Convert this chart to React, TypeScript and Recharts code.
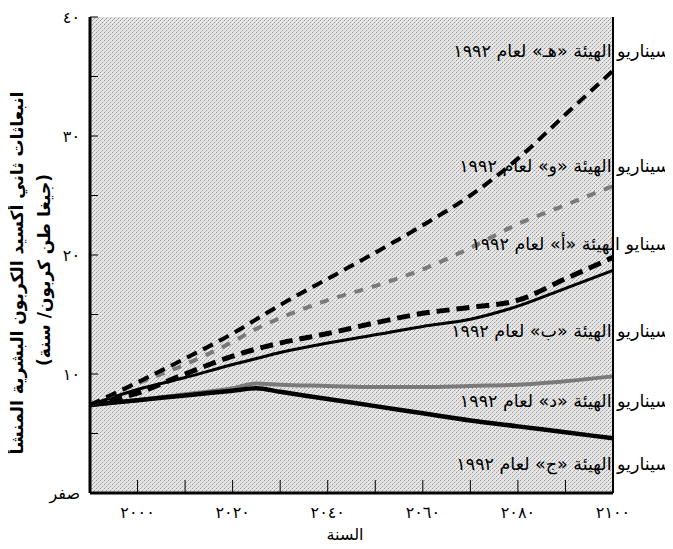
import { LineChart, Line, XAxis, YAxis } from 'recharts';

// سنوات المحور الأفقي
const years = [1990, 2000, 2010, 2020, 2025, 2030, 2040, 2050, 2060, 2070, 2080, 2090, 2100];

// انبعاثات كل سيناريو (جيغا طن كربون/سنة) مقروءة من الشكل
const scenarioE = [7.4, 9.3, 11.3, 13.4, 14.6, 15.8, 18.0, 20.2, 22.5, 25.0, 28.1, 31.8, 35.5];
const scenarioF = [7.4, 9.2, 10.8, 12.7, 13.8, 14.7, 16.2, 17.4, 18.8, 20.6, 22.6, 24.2, 25.8];
const scenarioA = [7.4, 8.4, 10.0, 11.5, 12.1, 12.6, 13.4, 14.3, 15.1, 15.6, 16.2, 18.0, 19.8];
const scenarioB = [7.4, 8.7, 9.7, 10.8, 11.3, 11.8, 12.6, 13.3, 14.0, 14.6, 15.7, 17.2, 18.7];
const scenarioD = [7.4, 7.8, 8.3, 8.8, 9.2, 9.1, 9.0, 8.9, 8.9, 9.0, 9.1, 9.4, 9.8];
const scenarioC = [7.4, 7.8, 8.2, 8.6, 8.8, 8.5, 7.9, 7.3, 6.7, 6.1, 5.6, 5.1, 4.6];

const xTicks = [2000, 2010, 2020, 2030, 2040, 2050, 2060, 2070, 2080, 2090, 2100];
const xTickLabels = ['٢٠٠٠', '', '٢٠٢٠', '', '٢٠٤٠', '', '٢٠٦٠', '', '٢٠٨٠', '', '٢١٠٠'];
const yTicks = [0, 5, 10, 15, 20, 25, 30, 35, 40];
const yTickLabels = ['صفر', '', '١٠', '', '٢٠', '', '٣٠', '', '٤٠'];

const seriesLabels = [
  'سيناريو الهيئة «هـ» لعام ١٩٩٢',
  'سيناريو الهيئة «و» لعام ١٩٩٢',
  'سينايو الهيئة «أ» لعام ١٩٩٢',
  'سيناريو الهيئة «ب» لعام ١٩٩٢',
  'سيناريو الهيئة «د» لعام ١٩٩٢',
  'سيناريو الهيئة «ج» لعام ١٩٩٢',
];
const yTitle = 'انبعاثات ثاني أكسيد الكربون البشرية المنشأ';
const yUnit = '(جيغا طن كربون/ سنة)';
const xTitle = 'السنة';

const data = years.map((year, i) => ({
  year,
  e: scenarioE[i],
  f: scenarioF[i],
  a: scenarioA[i],
  b: scenarioB[i],
  d: scenarioD[i],
  c: scenarioC[i],
}));

const font = '"DejaVu Sans", sans-serif';
const W = 665;
const H = 541;
const margin = { top: 9, right: 59, left: 0, bottom: 26 };
const yAxisWidth = 82;
const xAxisHeight = 30;
const labelY = [44, 159, 237, 324, 394, 457];

// ticks point inward, so each tick draws its own short line plus its label
const BottomTick = (props: any) => {
  const { x, y, payload } = props;
  const label = xTickLabels[xTicks.indexOf(payload.value)] ?? '';
  return (
    <g>
      <line x1={x} x2={x} y1={y - 14} y2={y - 27} stroke="#000" strokeWidth={1} />
      <text x={x} y={y} dy="0.71em" textAnchor="middle" fontSize={16} fontFamily={font} fill="#000">
        {label}
      </text>
    </g>
  );
};

const TopTick = (props: any) => {
  const { x, y } = props;
  return <line x1={x} x2={x} y1={y} y2={y + 12} stroke="#000" strokeWidth={1} />;
};

const LeftTick = (props: any) => {
  const { x, y, payload } = props;
  const label = yTickLabels[yTicks.indexOf(payload.value)] ?? '';
  return (
    <g>
      <line x1={x + 10} x2={x + 18} y1={y} y2={y} stroke="#000" strokeWidth={1} />
      <text x={x} y={y} dy="0.355em" textAnchor="end" fontSize={16} fontFamily={font} fill="#000">
        {label}
      </text>
    </g>
  );
};

const RightTick = (props: any) => {
  const { x, y } = props;
  return <line x1={x} x2={x - 8} y1={y} y2={y} stroke="#000" strokeWidth={1} />;
};

const App = () => {
  // the hatched plot background sits under the chart so axes and ticks stay visible
  const plotX = margin.left + yAxisWidth;
  const plotY = margin.top;
  const plotW = W - margin.right - 1 - plotX;
  const plotH = H - margin.bottom - xAxisHeight - plotY;
  return (
    <div style={{ position: 'relative', width: W, height: H, fontFamily: font }}>
      <svg width={W} height={H} style={{ position: 'absolute', left: 0, top: 0 }}>
        <defs>
          <pattern id="hatch" width={4} height={4} patternUnits="userSpaceOnUse">
            <rect width={4} height={4} fill="#e6e6e6" />
            <rect x={0} y={0} width={1} height={1} fill="#9a9a9a" />
            <rect x={2} y={2} width={1} height={1} fill="#9a9a9a" />
            <rect x={1} y={3} width={1} height={1} fill="#bdbdbd" />
            <rect x={3} y={1} width={1} height={1} fill="#c8c8c8" />
          </pattern>
        </defs>
        <rect x={plotX} y={plotY} width={plotW} height={plotH} fill="url(#hatch)" />
      </svg>
      <div style={{ position: 'absolute', left: 0, top: 0 }}>
        <LineChart width={W} height={H} data={data} margin={margin}>
          <XAxis
            xAxisId="bottom"
            dataKey="year"
            type="number"
            domain={[1990, 2100]}
            ticks={xTicks}
            interval={0}
            height={xAxisHeight}
            tickSize={0}
            tickMargin={14}
            axisLine={{ stroke: '#000', strokeWidth: 3 }}
            tickLine={false}
            tick={<BottomTick />}
          />
          <XAxis
            xAxisId="top"
            orientation="top"
            type="number"
            domain={[1990, 2100]}
            ticks={xTicks}
            interval={0}
            height={0}
            tickSize={0}
            tickMargin={0}
            axisLine={{ stroke: '#000', strokeWidth: 2 }}
            tickLine={false}
            tick={<TopTick />}
          />
          <YAxis
            yAxisId="left"
            type="number"
            domain={[0, 40]}
            ticks={yTicks}
            interval={0}
            width={yAxisWidth}
            tickSize={0}
            tickMargin={10}
            axisLine={{ stroke: '#000', strokeWidth: 3 }}
            tickLine={false}
            tick={<LeftTick />}
          />
          <YAxis
            yAxisId="right"
            orientation="right"
            type="number"
            domain={[0, 40]}
            ticks={yTicks}
            interval={0}
            width={1}
            tickSize={0}
            tickMargin={0}
            axisLine={{ stroke: '#000', strokeWidth: 2 }}
            tickLine={false}
            tick={<RightTick />}
          />
          <Line xAxisId="bottom" yAxisId="left" type="monotone" dataKey="d" stroke="#7a7a7a" strokeWidth={4} dot={false} isAnimationActive={false} />
          <Line xAxisId="bottom" yAxisId="left" type="monotone" dataKey="c" stroke="#000" strokeWidth={4.5} dot={false} isAnimationActive={false} />
          <Line xAxisId="bottom" yAxisId="left" type="monotone" dataKey="b" stroke="#000" strokeWidth={3} dot={false} isAnimationActive={false} />
          <Line xAxisId="bottom" yAxisId="left" type="monotone" dataKey="a" stroke="#000" strokeWidth={5} strokeDasharray="13 7" dot={false} isAnimationActive={false} />
          <Line xAxisId="bottom" yAxisId="left" type="monotone" dataKey="f" stroke="#7a7a7a" strokeWidth={4} strokeDasharray="9 9" dot={false} isAnimationActive={false} />
          <Line xAxisId="bottom" yAxisId="left" type="monotone" dataKey="e" stroke="#000" strokeWidth={4} strokeDasharray="11 7" dot={false} isAnimationActive={false} />
        </LineChart>
      </div>
      <svg
        width={W}
        height={H}
        style={{ position: 'absolute', left: 0, top: 0, pointerEvents: 'none' }}
        fontFamily={font}
      >
        {seriesLabels.map((s, i) => (
          <text key={s} x={662} y={labelY[i]} textAnchor="end" fontSize={17.5} fill="#000" dominantBaseline="middle">
            {s}
          </text>
        ))}
        <text
          x={10}
          y={265}
          transform="rotate(-90 10 265)"
          textAnchor="middle"
          dominantBaseline="middle"
          fontSize={17}
          fontWeight="bold"
          fill="#000"
        >
          {yTitle}
        </text>
        <text
          x={37}
          y={262}
          transform="rotate(-90 37 262)"
          textAnchor="middle"
          dominantBaseline="middle"
          fontSize={17}
          fontWeight="bold"
          fill="#000"
        >
          {yUnit}
        </text>
        <text x={337} y={527} textAnchor="middle" dominantBaseline="middle" fontSize={16} fill="#000">
          {xTitle}
        </text>
      </svg>
    </div>
  );
};

export default App;
